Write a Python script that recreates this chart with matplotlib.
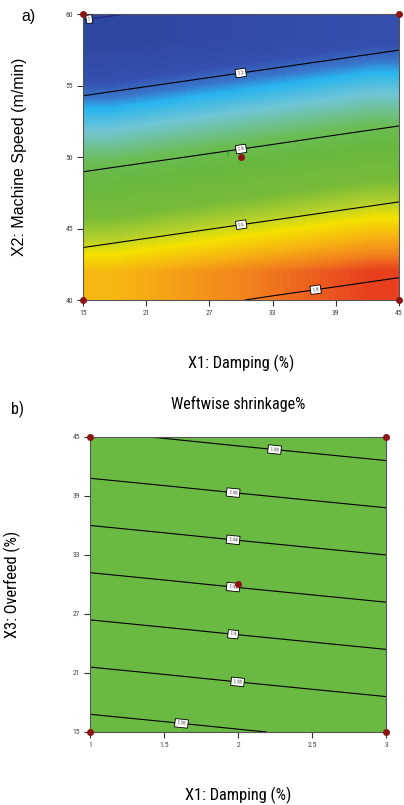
import numpy as np
import matplotlib
matplotlib.use("Agg")
import matplotlib.pyplot as plt
from matplotlib.colors import LinearSegmentedColormap, Normalize

plt.rcParams['font.family'] = ['Roboto Condensed', 'Liberation Sans Narrow', 'Roboto', 'DejaVu Sans']

# --- panel a: response at the tick grid
damping_a = [15, 21, 27, 33, 39, 45]
speed_a = [40, 45, 50, 55, 60]
resp_a = [
    [1.738, 1.762, 1.786, 1.811, 1.835, 1.859],
    [1.550, 1.574, 1.598, 1.622, 1.646, 1.670],
    [1.361, 1.385, 1.409, 1.433, 1.458, 1.482],
    [1.173, 1.197, 1.221, 1.245, 1.269, 1.293],
    [0.984, 1.008, 1.033, 1.057, 1.081, 1.105],
]
levels_a = [1.0, 1.2, 1.4, 1.6, 1.8]
labels_a = ["1", "1.2", "1.4", "1.6", "1.8"]
label_pos_a = [(15.6, 59.6), (30, 55.8), (30, 50.6), (30, 45.4), (37, 41.2)]
design_a = [(15, 40), (45, 40), (15, 60), (45, 60), (30, 50)]

# --- panel b: Weftwise shrinkage%
damping_b = [1, 1.5, 2, 2.5, 3]
overfeed_b = [15, 21, 27, 33, 39, 45]
resp_b = [
    [1.3525, 1.3556, 1.3588, 1.3619, 1.3650],
    [1.3775, 1.3806, 1.3838, 1.3869, 1.3900],
    [1.4025, 1.4056, 1.4088, 1.4119, 1.4150],
    [1.4275, 1.4306, 1.4338, 1.4369, 1.4400],
    [1.4525, 1.4556, 1.4588, 1.4619, 1.4650],
    [1.4775, 1.4806, 1.4838, 1.4869, 1.4900],
]
levels_b = [1.36, 1.38, 1.40, 1.42, 1.44, 1.46, 1.48]
labels_b = ["1.36", "1.38", "1.4", "1.42", "1.44", "1.46", "1.48"]
label_pos_b = [(1.62, 16.2), (2.0, 20.5), (1.97, 25.4), (1.97, 30.2), (1.97, 35.0), (1.97, 39.8), (2.25, 44.2)]
design_b = [(1, 15), (3, 15), (1, 45), (3, 45), (2, 30)]

# Design-Expert like blue->cyan->green->yellow->red
de_cmap = LinearSegmentedColormap.from_list("de", [
    (0.00, "#2e47a0"),
    (0.15, "#3550b0"),
    (0.21, "#3a78cc"),
    (0.25, "#28b4ee"),
    (0.33, "#70c6d6"),
    (0.45, "#6cbd55"),
    (0.53, "#68b840"),
    (0.66, "#78bc38"),
    (0.74, "#b4d02c"),
    (0.80, "#f5e200"),
    (0.87, "#f7b412"),
    (0.94, "#f2801e"),
    (1.00, "#e8401e"),
])
GREEN = "#6ab943"
DOT = "#8b1414"


def style_axes(ax):
    for s in ax.spines.values():
        s.set_color("#555555")
        s.set_linewidth(0.8)
    ax.tick_params(direction="out", length=4, width=0.8, color="#333333",
                   labelsize=5.5, labelcolor="#444444", pad=3)


def label_contours(ax, cs, fmt, positions):
    texts = ax.clabel(cs, inline=False, fontsize=4, fmt=fmt, manual=positions, colors="#555555")
    for t in texts:
        t.set_bbox(dict(boxstyle="square,pad=0.3", fc="white", ec="black", lw=0.6))
        t.set_zorder(5)


fig = plt.figure(figsize=(4.04, 8.05), dpi=100)

# ---------------- panel a
ax1 = fig.add_axes([0.2054, 0.6273, 0.782, 0.3553])
X, Y = np.meshgrid(damping_a, speed_a)
Z = np.array(resp_a)
ax1.imshow(Z, extent=[15, 45, 40, 60], origin="lower", aspect="auto",
           cmap=de_cmap, norm=Normalize(Z.min(), Z.max()), interpolation="bilinear")
cs1 = ax1.contour(X, Y, Z, levels=levels_a, colors=["#22228a", "black", "black", "black", "black"],
                  linewidths=0.8)
label_contours(ax1, cs1, dict(zip(levels_a, labels_a)), label_pos_a)
dx, dy = zip(*design_a)
ax1.plot(dx, dy, "o", color=DOT, ms=4, clip_on=False, zorder=6)
ax1.text(design_a[-1][0] - 1.3, design_a[-1][1] + 0.1, "5", color="#3aa030",
         fontsize=5, ha="center", va="center")
ax1.set_xlim(15, 45)
ax1.set_ylim(40, 60)
ax1.set_xticks(damping_a)
ax1.set_yticks(speed_a)
style_axes(ax1)
ax1.set_xlabel("X1: Damping (%)", fontsize=11.8, labelpad=28)
ax1.set_ylabel("X2: Machine Speed (m/min)", fontsize=11.5, family="Liberation Sans", labelpad=28)
fig.text(0.07, 0.98, "a)", fontsize=11.5, family="Liberation Sans", ha="center", va="center")

# ---------------- panel b
ax2 = fig.add_axes([0.2228, 0.0907, 0.7327, 0.3665])
X2, Y2 = np.meshgrid(damping_b, overfeed_b)
Z2 = np.array(resp_b)
ax2.set_facecolor(GREEN)
cs2 = ax2.contour(X2, Y2, Z2, levels=levels_b, colors="black", linewidths=0.8)
label_contours(ax2, cs2, dict(zip(levels_b, labels_b)), label_pos_b)
dx, dy = zip(*design_b)
ax2.plot(dx, dy, "o", color=DOT, ms=4, clip_on=False, zorder=6)
ax2.set_xlim(1, 3)
ax2.set_ylim(15, 45)
ax2.set_xticks(damping_b)
ax2.set_xticklabels(["1", "1.5", "2", "2.5", "3"])
ax2.set_yticks(overfeed_b)
style_axes(ax2)
ax2.set_xlabel("X1: Damping (%)", fontsize=11.8, labelpad=28)
ax2.set_ylabel("X3: Overfeed (%)", fontsize=11.8, labelpad=37)
ax2.set_title("Weftwise shrinkage%", fontsize=11.6, pad=20)
fig.text(0.043, 0.491, "b)", fontsize=11.5, ha="center", va="center")

fig.savefig("out.png", dpi=100)
